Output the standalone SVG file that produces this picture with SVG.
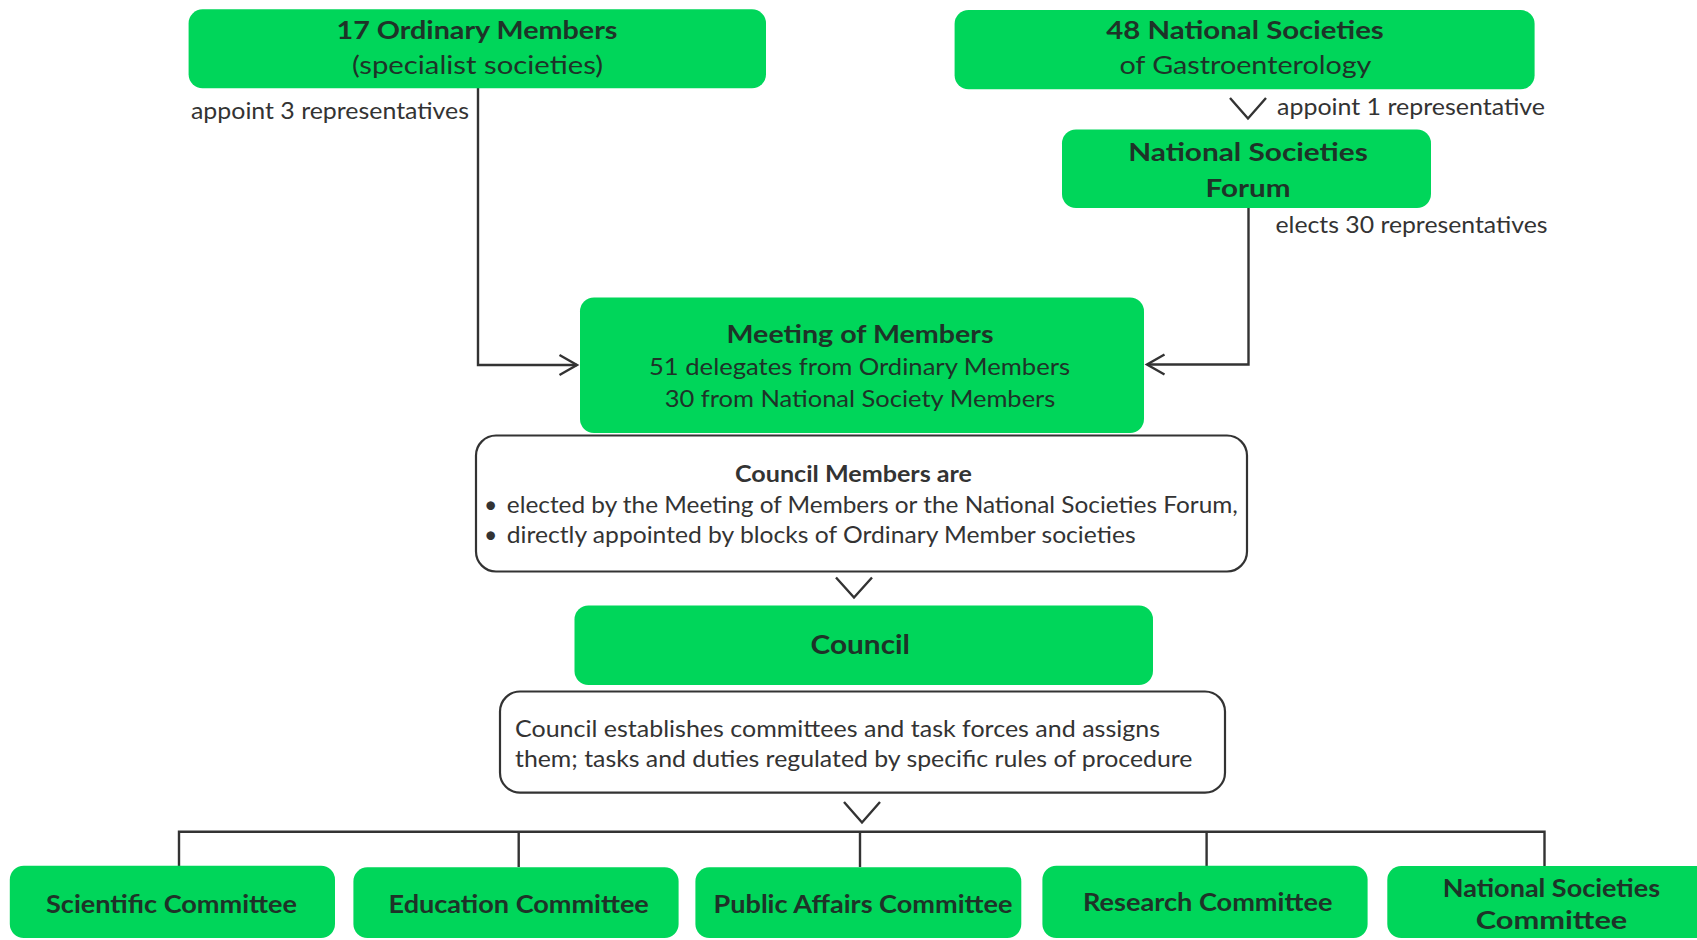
<svg xmlns="http://www.w3.org/2000/svg" width="1697" height="940" viewBox="0 0 1697 940">
<defs>
<style>
.g{fill:#00D65A;}
.w{fill:#ffffff;stroke:#333333;stroke-width:2.2;}
.t{font-family:Lato,"Liberation Sans",sans-serif;fill:#1e3328;}
.b{font-weight:bold;}
.o{font-family:Lato,"Liberation Sans",sans-serif;fill:#333333;}
.ln{fill:none;stroke:#333333;stroke-width:2.4;}
.chev{fill:none;stroke:#333333;stroke-width:2.4;stroke-linejoin:miter;}
</style>
<marker id="ah" viewBox="0 0 20 22" refX="17.5" refY="11" markerWidth="20" markerHeight="22" markerUnits="userSpaceOnUse" orient="auto" overflow="visible">
<path d="M0,1 L17.5,11 L0,21" fill="none" stroke="#333333" stroke-width="2.4"/>
</marker>
</defs>
<rect width="1697" height="940" fill="#ffffff"/>

<g id="connectors">
<path class="ln" d="M478,88 V365 H577" marker-end="url(#ah)"/>
<path class="ln" d="M1248.5,208 V364.5 H1147" marker-end="url(#ah)"/>
<path class="chev" d="M1230,98 L1248,118.5 L1266,98"/>
<path class="chev" d="M836,577.5 L854,597.5 L872,577.5"/>
<path class="chev" d="M844,802 L862,822.5 L880,802"/>
<path class="ln" d="M179,866 V831.7 H1544.5 V866"/>
<path class="ln" d="M518.7,831.7 V867"/>
<path class="ln" d="M860,831.7 V867"/>
<path class="ln" d="M1206.6,831.7 V866"/>
</g>

<g id="ordinary-members">
<rect class="g" x="188.6" y="9.3" width="577.4" height="79" rx="14"/>
<text class="t b" x="477" y="38.5" font-size="25" text-anchor="middle" textLength="281" lengthAdjust="spacingAndGlyphs">17 Ordinary Members</text>
<text class="t" x="477.5" y="74" font-size="25" text-anchor="middle" textLength="251" lengthAdjust="spacingAndGlyphs">(specialist societies)</text>
</g>
<text class="o" x="191" y="119" font-size="22.5" textLength="278" lengthAdjust="spacingAndGlyphs">appoint 3 representatives</text>

<g id="national-societies">
<rect class="g" x="954.6" y="10" width="580" height="79.3" rx="14"/>
<text class="t b" x="1245" y="38.5" font-size="25" text-anchor="middle" textLength="277.5" lengthAdjust="spacingAndGlyphs">48 National Societies</text>
<text class="t" x="1245.4" y="74" font-size="25" text-anchor="middle" textLength="252" lengthAdjust="spacingAndGlyphs">of Gastroenterology</text>
</g>
<text class="o" x="1277" y="115" font-size="22.5" textLength="268" lengthAdjust="spacingAndGlyphs">appoint 1 representative</text>

<g id="national-societies-forum">
<rect class="g" x="1062" y="129.5" width="369" height="78.5" rx="14"/>
<text class="t b" x="1248" y="160.5" font-size="25" text-anchor="middle" textLength="239.6" lengthAdjust="spacingAndGlyphs">National Societies</text>
<text class="t b" x="1248" y="196.5" font-size="25" text-anchor="middle" textLength="85" lengthAdjust="spacingAndGlyphs">Forum</text>
</g>
<text class="o" x="1275.5" y="233" font-size="22.5" textLength="272" lengthAdjust="spacingAndGlyphs">elects 30 representatives</text>

<g id="meeting-of-members">
<rect class="g" x="580" y="297.5" width="564" height="135.5" rx="14"/>
<text class="t b" x="860" y="342.7" font-size="25" text-anchor="middle" textLength="267" lengthAdjust="spacingAndGlyphs">Meeting of Members</text>
<text class="t" x="859.5" y="375" font-size="24" text-anchor="middle" textLength="421" lengthAdjust="spacingAndGlyphs">51 delegates from Ordinary Members</text>
<text class="t" x="860" y="407" font-size="24" text-anchor="middle" textLength="390.7" lengthAdjust="spacingAndGlyphs">30 from National Society Members</text>
</g>

<g id="council-members">
<rect class="w" x="476" y="435.5" width="771" height="136" rx="20"/>
<text class="o b" x="853.5" y="481.7" font-size="23" text-anchor="middle" textLength="237" lengthAdjust="spacingAndGlyphs">Council Members are</text>
<text class="o" x="484" y="512.7" font-size="23">•</text>
<text class="o" x="506.8" y="512.7" font-size="23" textLength="731" lengthAdjust="spacingAndGlyphs">elected by the Meeting of Members or the National Societies Forum,</text>
<text class="o" x="484" y="543.3" font-size="23">•</text>
<text class="o" x="506.8" y="543.3" font-size="23" textLength="628.8" lengthAdjust="spacingAndGlyphs">directly appointed by blocks of Ordinary Member societies</text>
</g>

<g id="council">
<rect class="g" x="574.5" y="605.5" width="578.5" height="79.5" rx="14"/>
<text class="t b" x="860.3" y="654" font-size="27" text-anchor="middle" textLength="99.4" lengthAdjust="spacingAndGlyphs">Council</text>
</g>

<g id="council-description">
<rect class="w" x="500" y="691.5" width="725" height="101.2" rx="20"/>
<text class="o" x="515" y="736.7" font-size="23" textLength="645" lengthAdjust="spacingAndGlyphs">Council establishes committees and task forces and assigns</text>
<text class="o" x="515" y="767.3" font-size="23" textLength="677.5" lengthAdjust="spacingAndGlyphs">them; tasks and duties regulated by specific rules of procedure</text>
</g>

<g id="scientific-committee">
<rect class="g" x="9.8" y="865.7" width="325.2" height="72.3" rx="14"/>
<text class="t b" x="171.5" y="913.3" font-size="25" text-anchor="middle" textLength="251" lengthAdjust="spacingAndGlyphs">Scientific Committee</text>
</g>
<g id="education-committee">
<rect class="g" x="353.4" y="867.3" width="325.2" height="70.7" rx="14"/>
<text class="t b" x="518.7" y="913.3" font-size="25" text-anchor="middle" textLength="260.2" lengthAdjust="spacingAndGlyphs">Education Committee</text>
</g>
<g id="public-affairs-committee">
<rect class="g" x="695.4" y="867.3" width="325.9" height="70.7" rx="14"/>
<text class="t b" x="863" y="913.3" font-size="25" text-anchor="middle" textLength="299" lengthAdjust="spacingAndGlyphs">Public Affairs Committee</text>
</g>
<g id="research-committee">
<rect class="g" x="1042.4" y="865.7" width="325.2" height="72.3" rx="14"/>
<text class="t b" x="1207.7" y="910.5" font-size="25" text-anchor="middle" textLength="249.4" lengthAdjust="spacingAndGlyphs">Research Committee</text>
</g>
<g id="national-societies-committee">
<rect class="g" x="1387.3" y="866" width="330" height="72" rx="14"/>
<text class="t b" x="1551.4" y="897.3" font-size="25" text-anchor="middle" textLength="217.3" lengthAdjust="spacingAndGlyphs">National Societies</text>
<text class="t b" x="1551.5" y="929.3" font-size="25" text-anchor="middle" textLength="151.6" lengthAdjust="spacingAndGlyphs">Committee</text>
</g>
</svg>
